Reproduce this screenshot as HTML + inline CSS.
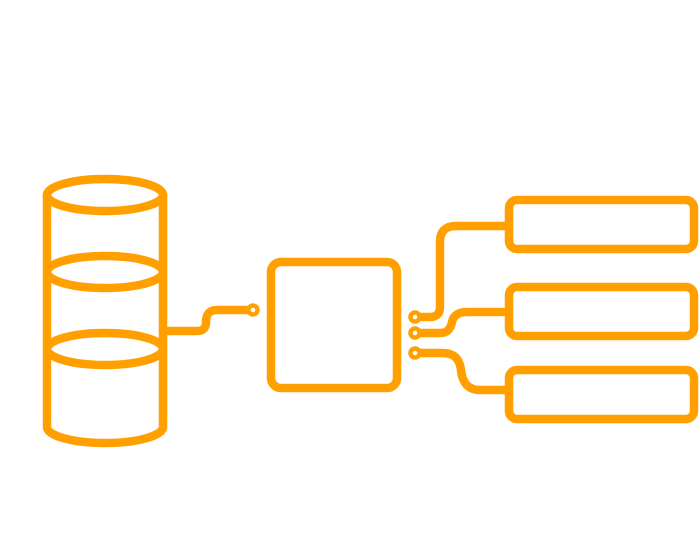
<!DOCTYPE html>
<html><head><style>html,body{margin:0;padding:0;background:#fff;}svg{display:block}</style></head>
<body>
<svg width="700" height="560" viewBox="0 0 700 560" xmlns="http://www.w3.org/2000/svg">
<g fill="none" stroke="#FFA000" stroke-width="8.5" stroke-linecap="round" stroke-linejoin="round">
  <path d="M47 195 L47 427 A58 16 0 0 0 163 427 L163 195"/>
  <ellipse cx="105" cy="195" rx="58" ry="16"/>
  <ellipse cx="105" cy="272" rx="58" ry="16"/>
  <ellipse cx="105" cy="349" rx="58" ry="16"/>
  <path d="M163 331 L197 331 Q206 331 206 322 Q206 310 217 310 L249 310" stroke-linecap="butt"/>
  <circle cx="253" cy="310" r="4.5" stroke-width="4.5"/>
  <rect x="271" y="262" width="126" height="126" rx="10"/>
  <circle cx="415" cy="317" r="4.5" stroke-width="4.5"/>
  <circle cx="415" cy="333" r="4.5" stroke-width="4.5"/>
  <circle cx="415" cy="353" r="4.5" stroke-width="4.5"/>
  <path d="M419 317 L430 317 Q440 317 440 307 L440 242 Q440 226 456 226 L505 226" stroke-linecap="butt"/>
  <path d="M419 333 L440 333 Q450 333 452 322 Q454 312 467 312 L505 312" stroke-linecap="butt"/>
  <path d="M419 353 L443 353 Q459 353 461 370 Q463 390 480 390 L505 390" stroke-linecap="butt"/>
  <rect x="509" y="200" width="185" height="49" rx="8"/>
  <rect x="509" y="287" width="185" height="49" rx="8"/>
  <rect x="509" y="370" width="185" height="49" rx="8"/>
</g>
</svg>
</body></html>
